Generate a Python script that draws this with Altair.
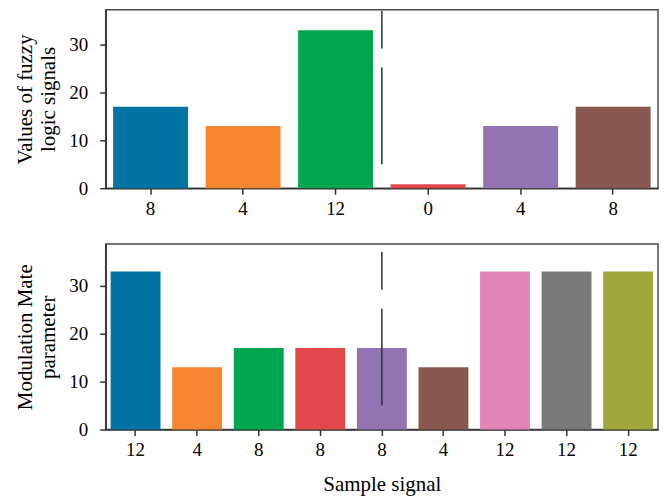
import json
import altair as alt
import pandas as pd

# ---- data ----
top_labels = ["8", "4", "12", "0", "4", "8"]
top_values = [17, 13, 33, 0.8, 13, 17]
top_colors = ["#0274a3", "#f5862f", "#00a54f", "#e2474b", "#9174b1", "#875750"]

bottom_labels = ["12", "4", "8", "8", "8", "4", "12", "12", "12"]
bottom_values = [33, 13, 17, 17, 17, 13, 33, 33, 33]
bottom_colors = ["#0274a3", "#f5862f", "#00a54f", "#e2474b", "#9174b1",
                 "#875750", "#e184b6", "#797979", "#9fa738"]

y_ticks = [0, 10, 20, 30]
marker_x = [0.5]          # horizontal centre of each panel
marker_y_start = [37.1]   # dashed marker top (data units)
marker_y_end = [5]        # dashed marker bottom (data units)

FONT = "Liberation Serif"
W = 554


def panel(labels, values, colors, ytitle, ymax, height, xtitle):
    n = len(labels)
    df = pd.DataFrame({"idx": list(range(n)), "label": labels,
                       "value": values, "color": colors})
    label_expr = json.dumps(labels) + "[datum.value]"
    y_axis = alt.Axis(values=y_ticks, title=ytitle, titlePadding=10,
                      labelPadding=12, titleLineHeight=23)
    x_axis = alt.Axis(labelExpr=label_expr, labelAngle=0, title=xtitle,
                      labelPadding=5, titlePadding=14)
    bars = alt.Chart(df).mark_bar().encode(
        x=alt.X("idx:O", scale=alt.Scale(paddingInner=0.19, paddingOuter=0.08),
                axis=x_axis),
        y=alt.Y("value:Q", scale=alt.Scale(domain=[0, ymax], nice=False, zero=True),
                axis=y_axis),
        color=alt.Color("color:N", scale=None),
    )
    rdf = pd.DataFrame({"x": marker_x, "y": marker_y_start, "y2": marker_y_end})
    rule = alt.Chart(rdf).mark_rule(color="#3a3a3a", strokeWidth=1.6,
                                    strokeDash=[38, 19, 200]).encode(
        x=alt.X("x:Q", scale=alt.Scale(domain=[0, 1]), axis=None),
        y=alt.Y("y:Q", axis=y_axis),
        y2="y2:Q",
    )
    return alt.layer(bars, rule).resolve_scale(x="independent").properties(
        width=W, height=height)


top = panel(top_labels, top_values, top_colors,
            ["Values of fuzzy", "logic signals"], 37.3, 179, None)
bottom = panel(bottom_labels, bottom_values, bottom_colors,
               ["Modulation Mate", "parameter"], 38.75, 186, "Sample signal")

chart = alt.vconcat(top, bottom, spacing=24).properties(
    padding={"left": 6, "top": 0, "right": 5, "bottom": 5}
).configure_view(
    stroke="#4a4a4a", strokeWidth=1.5
).configure_axis(
    labelFont=FONT, titleFont=FONT, labelFontSize=19, titleFontSize=21,
    labelColor="black", titleColor="black", titleFontWeight="normal",
    domainColor="#333333", tickColor="#333333", domainWidth=1.5, tickWidth=1.5,
    tickSize=6, grid=False,
)

chart.save("out.html", embed_options={"renderer": "svg", "actions": False})
